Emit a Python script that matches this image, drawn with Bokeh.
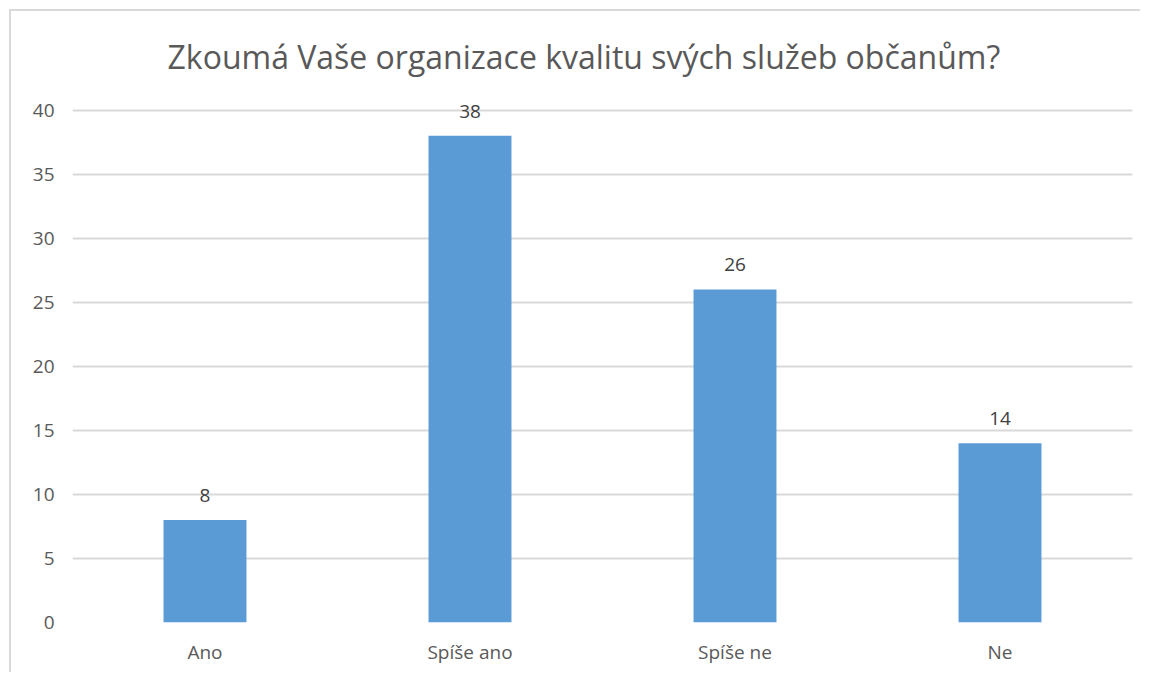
from bokeh.plotting import figure
from bokeh.models import ColumnDataSource, LabelSet, FixedTicker
from bokeh.core.properties import value
from bokeh.embed import file_html
from bokeh.resources import INLINE

categories = ["Ano", "Spíše ano", "Spíše ne", "Ne"]
values = [8, 38, 26, 14]
y_ticks = [0, 5, 10, 15, 20, 25, 30, 35, 40]
title_text = "Zkoumá Vaše organizace kvalitu svých služeb občanům?"

FONT = "Open Sans"
TXT = "#595959"

src = ColumnDataSource(dict(cat=categories, val=values, lab=[str(v) for v in values]))

p = figure(x_range=categories, y_range=(0, 42), width=1131, height=663,
           output_backend="svg", toolbar_location=None,
           min_border_left=61, min_border_right=10, min_border_top=73, min_border_bottom=52,
           styles={"margin-left": "9px", "margin-top": "9px",
                   "border-left": "2px solid #d9d9d9", "border-top": "2px solid #d9d9d9"})

p.title.text = title_text
p.title.align = "left"
p.title.text_font = FONT
p.title.text_font_size = "32px"
p.title.text_font_style = "normal"
p.title.text_color = TXT
p.title.offset = 95
p.title.standoff = 13

p.vbar(x="cat", top="val", width=0.313, source=src, color="#5b9bd5", line_color=None)

labels = LabelSet(x="cat", y="val", text="lab", source=src, text_align="center",
                  text_baseline="bottom", y_offset=18, text_font=value(FONT),
                  text_font_size=value("19px"), text_color="#404040")
p.add_layout(labels)

p.yaxis.ticker = FixedTicker(ticks=y_ticks)
for ax in (p.xaxis, p.yaxis):
    ax.axis_line_color = None
    ax.major_tick_line_color = None
    ax.minor_tick_line_color = None
    ax.major_label_text_font = FONT
    ax.major_label_text_font_size = "19px"
    ax.major_label_text_color = TXT
p.yaxis.major_label_standoff = 12
p.xaxis.major_label_standoff = 10

p.xgrid.grid_line_color = None
p.ygrid.grid_line_color = "#d9d9d9"
p.ygrid.grid_line_width = 2
p.outline_line_color = None

open("out.html", "w").write(file_html(p, INLINE))
